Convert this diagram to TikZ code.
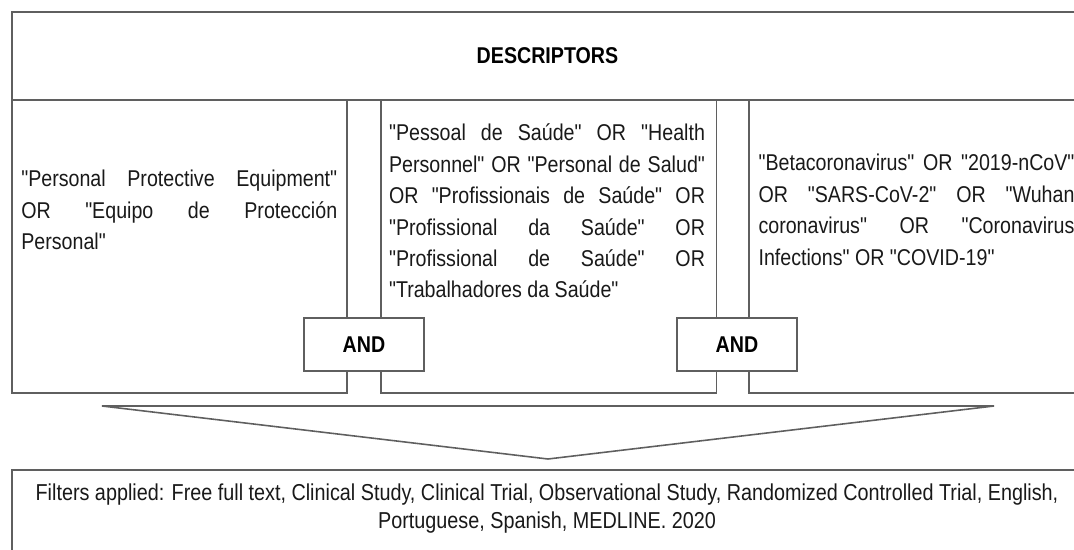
\documentclass[tikz,border=0pt]{standalone}
\usepackage{fontspec}
\newfontfamily\descfont{Liberation Sans}[FakeStretch=0.86]
\definecolor{linegray}{RGB}{95,95,95}
\definecolor{inkgray}{RGB}{25,25,25}
\begin{document}
\begin{tikzpicture}[x=0.02cm,y=-0.02cm,
    every node/.style={font=\descfont},
    frame/.style={draw=linegray,line width=0.9pt,inner sep=0pt},
    terms/.style={text=inkgray,text width=6.32cm,align=justify,inner sep=0pt,font=\descfont\fontsize{13}{17.9}\selectfont},
    andbox/.style={frame,fill=white,minimum width=2.4cm,minimum height=1.06cm,font=\descfont\bfseries\fontsize{13}{15}\selectfont,text=black}]
    \useasboundingbox (0,0) rectangle (1074,550);
    \clip (0,0) rectangle (1074,550);
    % Define boxes
    \node[frame,minimum width=21.42cm,minimum height=1.76cm,font=\descfont\bfseries\fontsize{13}{15}\selectfont] (head) at (547.5,56) {DESCRIPTORS};
    \node[frame,minimum width=6.7cm,minimum height=5.86cm] (colA) at (179.5,246.5) {};
    \node[frame,minimum width=6.71cm,minimum height=5.86cm] (colB) at (548.75,246.5) {};
    \node[frame,minimum width=6.68cm,minimum height=5.86cm] (colC) at (916,246.5) {};
    % Descriptor terms
    \node[terms] (txtA) at (179.25,210) {"Personal Protective Equipment"\linebreak OR "Equipo de Protección\linebreak Personal"};
    \node[terms] (txtB) at (547,211) {"Pessoal de Saúde" OR "Health\linebreak Personnel" OR "Personal de Salud"\linebreak OR "Profissionais de Saúde" OR\linebreak "Profissional da Saúde" OR\linebreak "Profissional de Saúde" OR\linebreak "Trabalhadores da Saúde"};
    \node[terms] (txtC) at (916.5,210) {"Betacoronavirus" OR "2019-nCoV"\linebreak OR "SARS-CoV-2" OR "Wuhan\linebreak coronavirus" OR "Coronavirus\linebreak Infections" OR "COVID-19"};
    % AND boxes
    \node[andbox] (andA) at (364,344.5) {AND};
    \node[andbox] (andB) at (737,344.5) {AND};
    % Funnel
    \coordinate (funL) at (102,406);
    \coordinate (funR) at (994,406);
    \coordinate (funTip) at (548,459);
    \draw[frame] (funL) -- (funR) -- (funTip) -- cycle;
    % Filters
    \node[frame,minimum width=21.42cm,minimum height=1.8cm] (filt) at (547.5,515) {};
    \node[text=inkgray,align=center,inner sep=0pt,font=\descfont\fontsize{13.1}{15.9}\selectfont] (filtxt) at (547,509) {Filters applied: Free full text, Clinical Study, Clinical Trial, Observational Study, Randomized Controlled Trial, English,\\ Portuguese, Spanish, MEDLINE. 2020};
\end{tikzpicture}
\end{document}
